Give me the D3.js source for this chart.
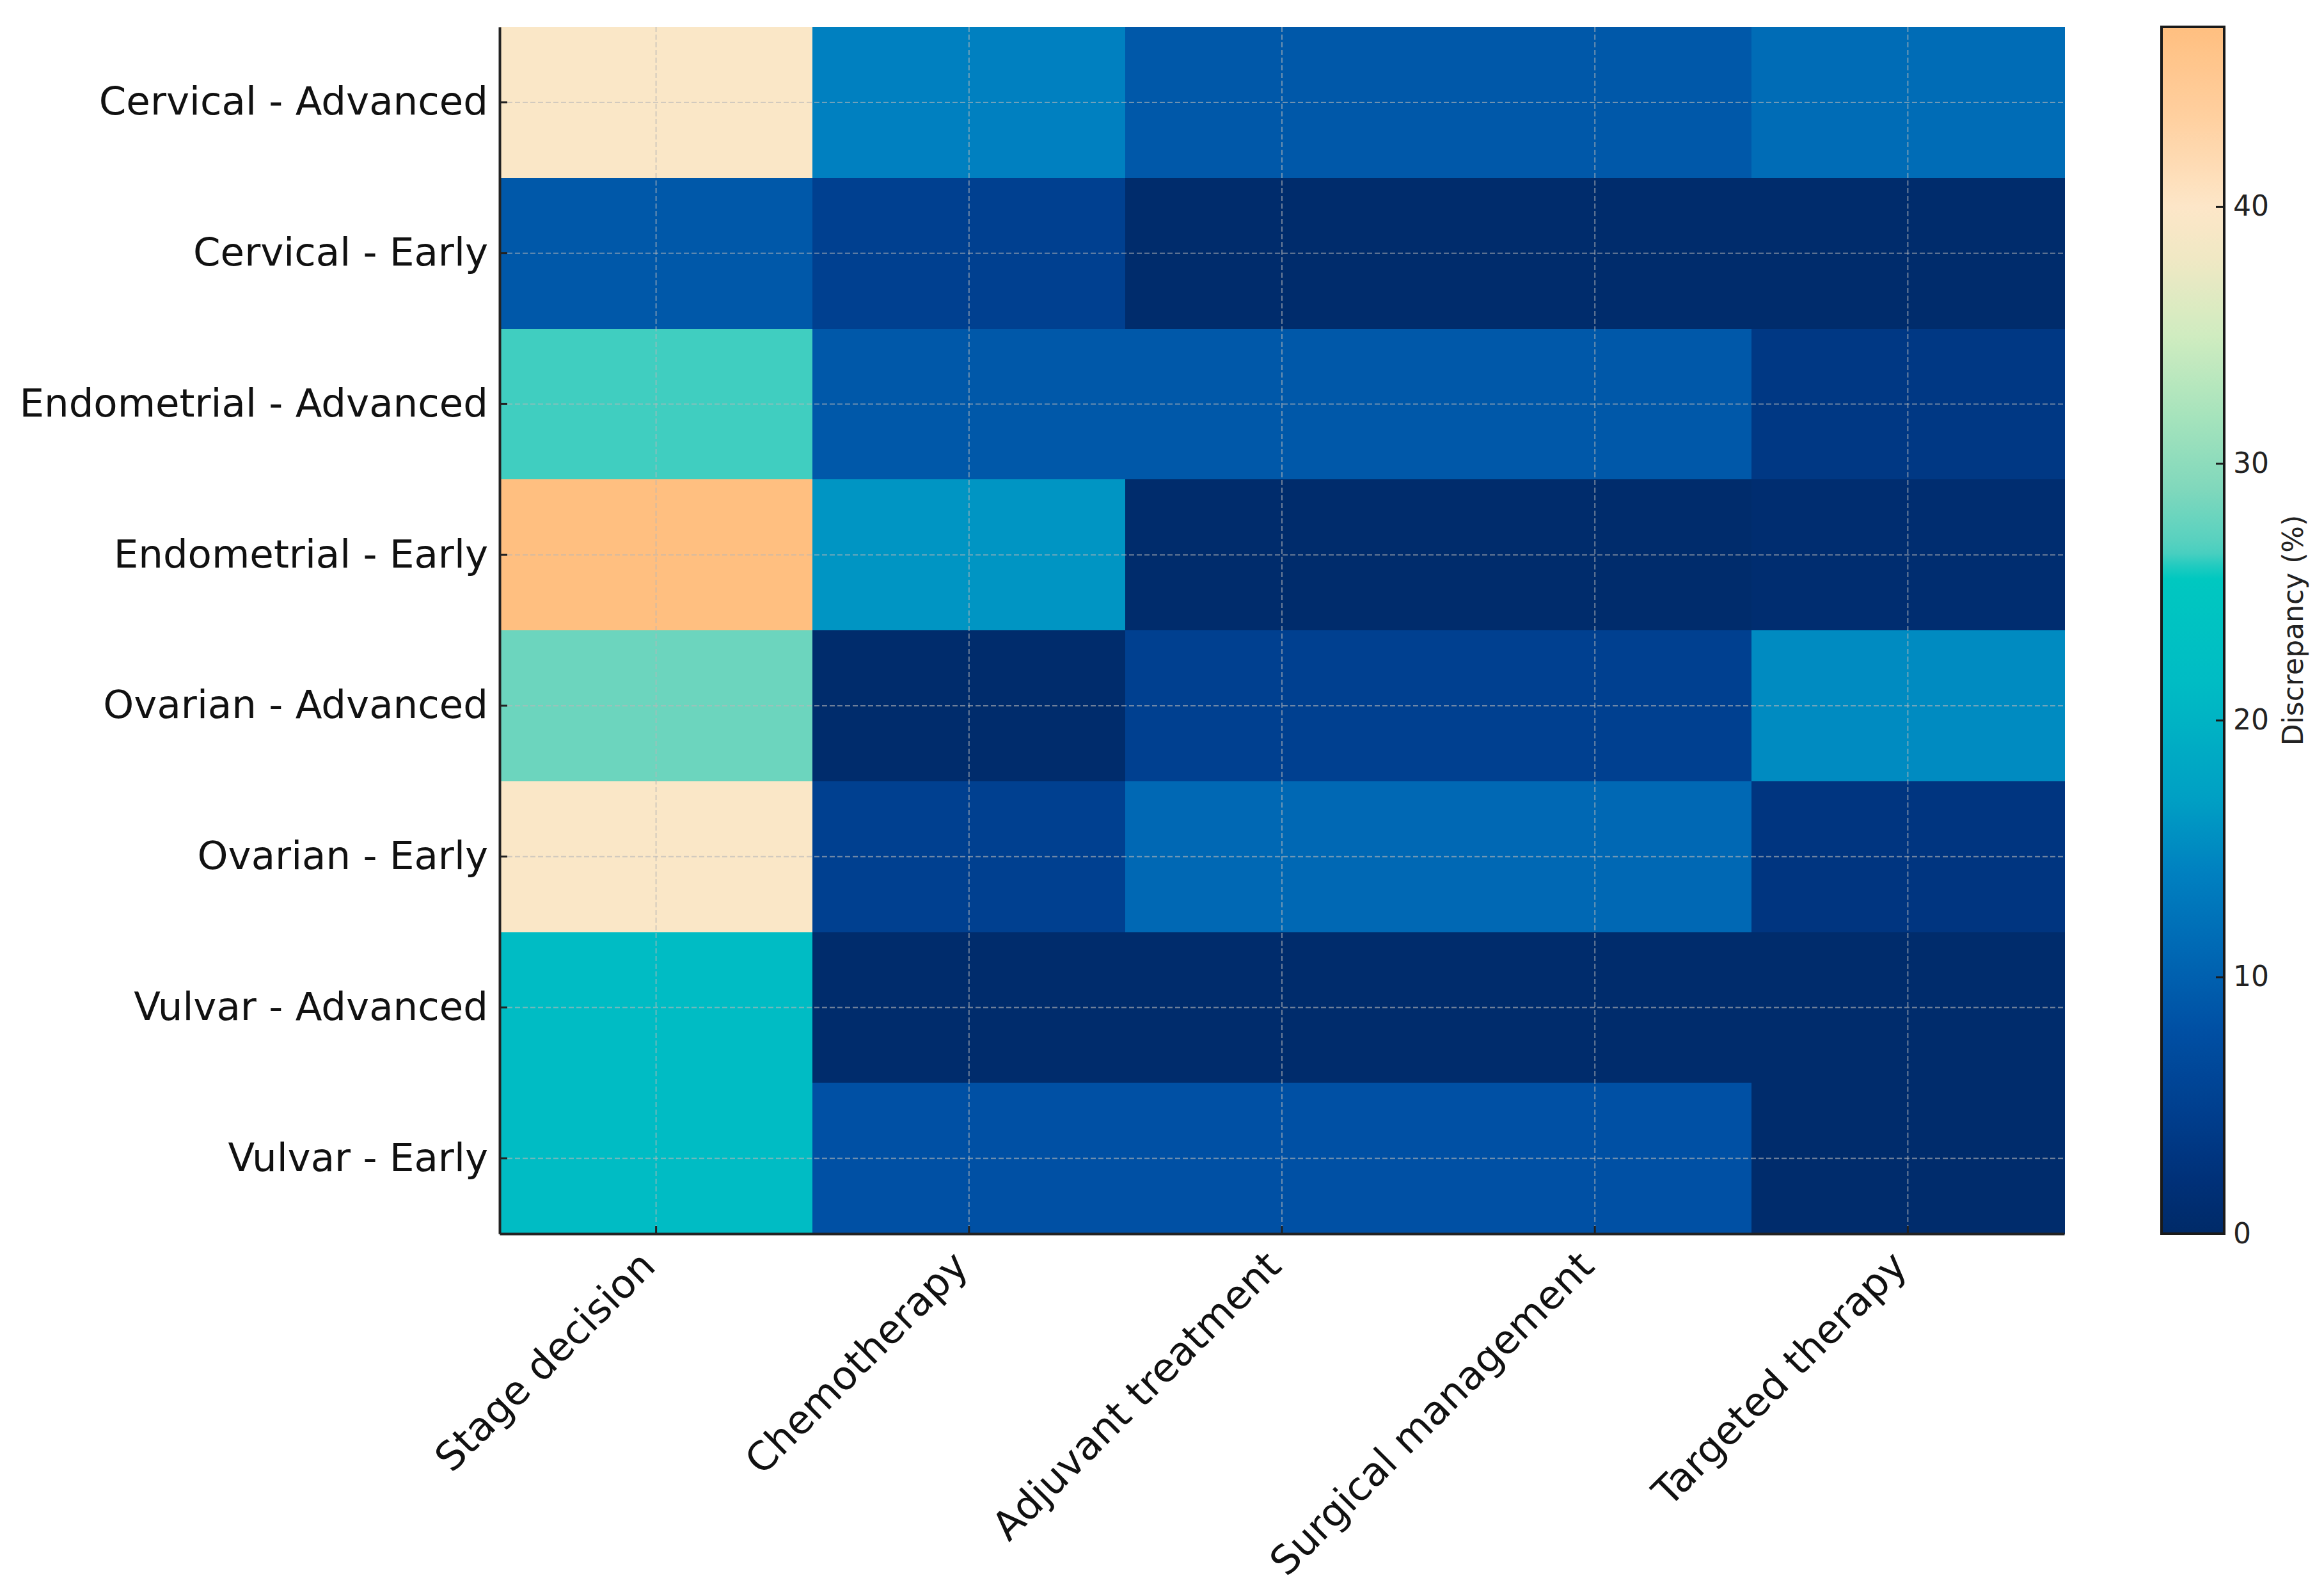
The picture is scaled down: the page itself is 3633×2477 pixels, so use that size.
<!DOCTYPE html>
<html>
<head>
<meta charset="utf-8">
<script src="https://cdn.jsdelivr.net/npm/d3@7"></script>
<style>
  body { margin: 0; background: #fff; }
  svg text { font-family: "DejaVu Sans", sans-serif; }
</style>
</head>
<body>
<div id="chart"></div>
<script>
// categorias y valores
const filas = [
  "Cervical - Advanced", "Cervical - Early",
  "Endometrial - Advanced", "Endometrial - Early",
  "Ovarian - Advanced", "Ovarian - Early",
  "Vulvar - Advanced", "Vulvar - Early"
]
const columnas = ["Stage decision", "Chemotherapy", "Adjuvant treatment", "Surgical management", "Targeted therapy"]

// discrepancia (%) por fila, en el orden de columnas
const cervicalAvanzado = [39.5, 14, 9, 9, 11.5]
const cervicalTemprano = [9, 5, 0.5, 0.5, 0.5]
const endometrialAvanzado = [26.4, 9, 9, 9, 3.5]
const endometrialTemprano = [47, 16, 0.5, 0.5, 1]
const ovaricoAvanzado = [28, 0.5, 5, 5, 15]
const ovaricoTemprano = [39.5, 5, 11, 11, 3]
const vulvarAvanzado = [21.5, 0.5, 0.5, 0.5, 0.5]
const vulvarTemprano = [21.5, 8, 8, 8, 0.5]

const matriz = [cervicalAvanzado, cervicalTemprano, endometrialAvanzado, endometrialTemprano,
  ovaricoAvanzado, ovaricoTemprano, vulvarAvanzado, vulvarTemprano]

const ticksBarra = [0, 10, 20, 30, 40]
const etiquetaBarra = "Discrepancy (%)"

// mapa de color aproximado a la barra original
const paradas = [0, 2, 5, 8, 11, 14, 17, 21.5, 25.6, 26.6, 29, 32, 35, 38, 40, 43.4, 47]
const coloresMapa = ["#002a68", "#003078", "#004090", "#0050a4", "#0068b4", "#0080c0", "#00a0c4",
  "#00bcc4", "#00c8c0", "#50d0c0", "#80d8bc", "#a8e4bc", "#d0ecc0", "#f0e8c4", "#fde6c8", "#ffd0a0", "#ffbf80"]

const ancho = 3633
const alto = 2477
const m = { izq: 781, der: 3227, sup: 42, inf: 1928 }

const svg = d3.select("#chart")
  .append("svg")
  .attr("width", ancho)
  .attr("height", alto)

const x = d3.scaleBand().domain(columnas).range([m.izq, m.der]).padding(0)
const y = d3.scaleBand().domain(filas).range([m.sup, m.inf]).padding(0)
const color = d3.scaleLinear().domain(paradas).range(coloresMapa).clamp(true)

// celdas
const celdas = []
matriz.forEach((fila, i) => fila.forEach((v, j) => celdas.push({ fila: filas[i], col: columnas[j], v })))

svg.append("g")
  .selectAll("rect")
  .data(celdas)
  .join("rect")
  .attr("x", d => x(d.col))
  .attr("y", d => y(d.fila))
  .attr("width", x.bandwidth() + 0.5)
  .attr("height", y.bandwidth() + 0.5)
  .attr("fill", d => color(d.v))
  .attr("shape-rendering", "crispEdges")

// rejilla punteada
const rejilla = svg.append("g")
  .attr("stroke", "#b8b8b8")
  .attr("stroke-opacity", 0.6)
  .attr("stroke-width", 2)
  .attr("stroke-dasharray", "8,4")

rejilla.selectAll(".gx")
  .data(columnas)
  .join("line")
  .attr("x1", d => x(d) + x.bandwidth() / 2)
  .attr("x2", d => x(d) + x.bandwidth() / 2)
  .attr("y1", m.sup)
  .attr("y2", m.inf)

rejilla.selectAll(".gy")
  .data(filas)
  .join("line")
  .attr("y1", d => y(d) + y.bandwidth() / 2)
  .attr("y2", d => y(d) + y.bandwidth() / 2)
  .attr("x1", m.izq)
  .attr("x2", m.der)

// eje y
const ejeY = svg.append("g")
  .attr("transform", `translate(${m.izq},0)`)
  .call(d3.axisLeft(y).tickSize(-12).tickSizeOuter(0).tickPadding(18))
ejeY.select(".domain").attr("stroke", "#222").attr("stroke-width", 4)
ejeY.selectAll(".tick line").attr("stroke", "#222").attr("stroke-width", 3)
ejeY.selectAll("text").attr("font-size", 61).attr("fill", "#111")

// eje x
const ejeX = svg.append("g")
  .attr("transform", `translate(0,${m.inf})`)
  .call(d3.axisBottom(x).tickSize(-12).tickSizeOuter(0))
ejeX.select(".domain").attr("stroke", "#222").attr("stroke-width", 4)
ejeX.selectAll(".tick line").attr("stroke", "#222").attr("stroke-width", 3)
ejeX.selectAll("text")
  .attr("font-size", 62)
  .attr("fill", "#111")
  .attr("text-anchor", "end")
  .attr("dy", 0)
  .attr("y", 0)
  .attr("transform", "translate(2,54) rotate(-45)")

// barra de color
const cb = { x: 3379, w: 98 }
const yBarra = d3.scaleLinear().domain([0, 47]).range([m.inf, m.sup])

const grad = svg.append("defs").append("linearGradient")
  .attr("id", "gradBarra")
  .attr("x1", 0).attr("x2", 0).attr("y1", 1).attr("y2", 0)
grad.selectAll("stop")
  .data(d3.range(0, 47.01, 0.5))
  .join("stop")
  .attr("offset", d => d / 47)
  .attr("stop-color", d => color(d))

svg.append("rect")
  .attr("x", cb.x)
  .attr("y", m.sup)
  .attr("width", cb.w)
  .attr("height", m.inf - m.sup)
  .attr("fill", "url(#gradBarra)")
  .attr("stroke", "#1a1a1a")
  .attr("stroke-width", 4)

const ejeBarra = svg.append("g")
  .attr("transform", `translate(${cb.x + cb.w},0)`)
  .call(d3.axisRight(yBarra).tickValues(ticksBarra).tickSize(-13).tickSizeOuter(0).tickPadding(14))
ejeBarra.select(".domain").remove()
ejeBarra.selectAll(".tick line").attr("stroke", "#1a1a1a").attr("stroke-width", 3)
ejeBarra.selectAll("text").attr("font-size", 44).attr("fill", "#222")

svg.append("text")
  .attr("transform", `translate(3600,${(m.sup + m.inf) / 2}) rotate(-90)`)
  .attr("text-anchor", "middle")
  .attr("font-size", 44)
  .attr("fill", "#222")
  .text(etiquetaBarra)
</script>
</body>
</html>
